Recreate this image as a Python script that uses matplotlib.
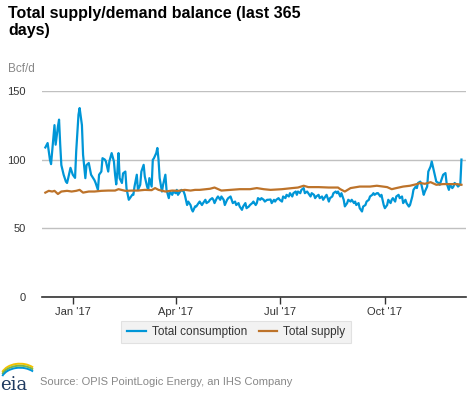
import pandas as pd
import matplotlib
matplotlib.use("Agg")
import matplotlib.pyplot as plt
from matplotlib.patches import Arc

# day index counted from the first day of the 365-day window
start_date = "2016-12-08"

cons_days = [0, 2, 4, 5, 6, 8, 9, 11, 12, 13, 14, 16, 18, 19, 20, 22, 24, 26, 27, 29,
             30, 32, 33, 35, 36, 38, 40, 41, 43, 44, 46, 47, 49, 50, 52, 53, 55, 56, 58, 60,
             61, 62, 63, 64, 65, 67, 68, 70, 71, 73, 74, 76, 77, 78, 80, 81, 83, 84, 86, 87,
             89, 90, 91, 93, 94, 95, 97, 98, 99, 100, 102, 103, 105, 106, 108, 109, 111, 112, 114, 115,
             116, 118, 119, 121, 122, 124, 125, 127, 128, 129, 131, 132, 134, 135, 137, 138, 140, 141, 143, 144,
             146, 147, 148, 150, 151, 153, 154, 156, 157, 159, 160, 162, 163, 164, 166, 167, 169, 170, 172, 173,
             175, 176, 178, 179, 181, 182, 184, 185, 186, 188, 189, 191, 192, 194, 195, 197, 198, 200, 201, 202,
             204, 205, 207, 208, 210, 211, 213, 214, 216, 217, 219, 220, 221, 223, 224, 226, 227, 229, 230, 232,
             233, 235, 236, 237, 239, 240, 242, 243, 245, 246, 248, 249, 251, 252, 254, 255, 256, 258, 259, 261,
             262, 264, 265, 267, 268, 270, 271, 272, 274, 275, 277, 278, 280, 281, 283, 284, 286, 287, 288, 290,
             291, 293, 294, 296, 297, 299, 300, 302, 303, 304, 306, 307, 309, 310, 312, 313, 315, 316, 318, 319,
             321, 322, 324, 325, 326, 328, 329, 331, 332, 334, 335, 337, 338, 340, 341, 342, 344, 345, 347, 348,
             350, 351, 353, 354, 356, 357, 358, 360, 361, 363, 364]
consumption = [108.8, 112, 100, 96.7, 106, 125, 110.8, 124, 129, 111, 96, 89, 84, 83, 86.5, 94, 89, 86.7, 106, 132.6,
               137.4, 125, 103.5, 86.5, 96, 97.5, 89, 87.7, 85, 83, 78, 89, 91.3, 101, 100, 98.6, 91.3, 98.6, 104.7, 98.6,
               89, 82, 91, 104.7, 86.5, 83, 90, 91.3, 79, 70.8, 72, 74.4, 74.4, 80.4, 89, 78, 81.7, 91.3, 96.2, 87.7,
               80.4, 78, 86.5, 80.4, 99.8, 101, 104.7, 108.4, 100, 86.5, 76.8, 81.7, 89, 78, 72, 76.8, 74.4, 76.8, 75.6, 78,
               74.4, 76.8, 78, 76.8, 74.4, 67, 69.5, 67, 64, 62.3, 66, 65.9, 68.4, 69.5, 67, 68.4, 70.8, 68.4, 69.5, 70.8,
               72, 70.8, 68.4, 72, 73.2, 70.8, 73.2, 70.8, 67, 70.8, 72, 73.2, 70.8, 68.4, 69.5, 67, 68.4, 65.9, 63.5, 65.9,
               68.4, 64.7, 65.9, 67, 68.4, 69.5, 67, 68.4, 72, 70.8, 72, 70.8, 69.5, 70.8, 70.8, 71, 68.4, 70.8, 69.5, 70.8,
               72, 70.8, 69.5, 73.2, 72, 74.4, 73.2, 75.6, 73.2, 75.6, 76.8, 74.4, 76.8, 75.6, 78, 79.3, 75.6, 76.8, 75.6, 73.2,
               75.6, 74.4, 72, 73.2, 74.4, 72, 73.2, 70.8, 73.2, 74.4, 69.5, 72, 73.2, 75.6, 76.8, 75.6, 76.8, 73.2, 75.6, 70.8,
               66, 68.4, 70.8, 69.5, 70.8, 68.4, 69.5, 67, 68.4, 64.7, 62.3, 65.9, 67, 69.5, 70.8, 73.2, 74.4, 75.6, 74.4, 75.6,
               75.6, 73.2, 74.4, 67, 64.7, 67, 70.8, 68.4, 70.8, 72, 69.5, 73.2, 74.4, 72, 73.2, 68.4, 70.8, 68.4, 65.9, 67,
               73.2, 78, 80.4, 79.3, 83, 84, 81.7, 74.4, 76.8, 80.4, 91.3, 95, 98.6, 91.3, 87.7, 84, 83, 81.7, 86.5, 89,
               90.2, 83, 78, 81.7, 79.3, 80.4, 83, 81.7, 80.4, 82, 100]

supply_days = [0, 3, 6, 8, 11, 14, 19, 23, 27, 30, 33, 38, 43, 49, 55, 61, 64, 70, 76, 81,
               87, 93, 96, 99, 105, 111, 116, 122, 127, 131, 135, 144, 148, 154, 162, 170, 179, 185, 191, 197,
               207, 216, 221, 226, 230, 239, 248, 256, 258, 262, 267, 275, 284, 290, 299, 303, 307, 313, 319, 325,
               328, 332, 337, 342, 348, 354, 360, 364]
supply = [76, 77.3, 76.8, 77.3, 75, 76.8, 77.3, 76.8, 77.3, 78, 76, 76.8, 76.8, 77.3, 77.5, 77.5, 78.5, 77.3, 77.5, 77.5,
          78, 77.8, 79.3, 78, 76.8, 77.5, 77.3, 78, 77.5, 78, 78, 78.8, 79.7, 77.5, 78, 78.5, 78.5, 79.3, 78.5, 78,
          78.5, 79.3, 79.7, 81, 80, 80, 79.7, 79.7, 78.5, 76.8, 79.3, 80.4, 80.4, 81, 80, 78.5, 79.3, 80.4, 81, 82.2,
          83, 82.4, 83.6, 81.7, 82.2, 82.2, 82.2, 81.7]

tick_dates = ["2017-01-01", "2017-04-01", "2017-07-01", "2017-10-01"]
tick_labels = ["Jan '17", "Apr '17", "Jul '17", "Oct '17"]
y_ticks = [0, 50, 100, 150]

BLUE = "#0096d7"
BROWN = "#bd732a"

plt.rcParams["font.family"] = ["Liberation Sans", "DejaVu Sans"]

t0 = pd.Timestamp(start_date)
cons_x = t0 + pd.to_timedelta(cons_days, unit="D")
supp_x = t0 + pd.to_timedelta(supply_days, unit="D")

fig = plt.figure(figsize=(4.77, 3.93), dpi=100)
ax = fig.add_axes([0.0881, 0.2435, 0.8889, 0.5257])

ax.plot(cons_x, consumption, color=BLUE, lw=1.6, label="Total consumption", zorder=3)
ax.plot(supp_x, supply, color=BROWN, lw=1.6, label="Total supply", zorder=4)

ax.set_ylim(0, 150)
ax.set_xlim(t0 - pd.Timedelta(days=2.9), t0 + pd.Timedelta(days=368))
ax.set_yticks(y_ticks)
ax.set_xticks(pd.to_datetime(tick_dates))
ax.set_xticklabels(tick_labels)
ax.yaxis.grid(True, color="#c0c0c0", lw=1)
ax.set_axisbelow(True)
for s in ("top", "right", "left"):
    ax.spines[s].set_visible(False)
ax.spines["bottom"].set_color("#333333")
ax.spines["bottom"].set_linewidth(1.2)
ax.tick_params(axis="y", length=0, labelsize=8, labelcolor="#333333", pad=12)
ax.tick_params(axis="x", length=5, width=1, color="#333333", labelsize=8, labelcolor="#333333", pad=2)

fig.text(0.017, 0.985, "Total supply/demand balance (last 365\ndays)", ha="left", va="top",
         fontsize=11.5, fontweight="bold", color="#000000", linespacing=1.15)
fig.text(0.017, 0.825, "Bcf/d", ha="left", va="center", fontsize=8.5, color="#888888")

leg = fig.legend(loc="center", bbox_to_anchor=(0.495, 0.155), ncol=2, frameon=True,
                 fontsize=8.5, handlelength=1.6, handletextpad=0.5, columnspacing=1.0,
                 borderpad=0.45, fancybox=False)
leg.get_frame().set_facecolor("#efefef")
leg.get_frame().set_edgecolor("#dcdcdc")
leg.get_frame().set_linewidth(0.8)
for txt in leg.get_texts():
    txt.set_color("#333333")

# eia logo (small pixel-unit axes) and source line
lax = fig.add_axes([0.0, 0.0, 0.075, 0.09])
lax.set_xlim(0, 36)
lax.set_ylim(0, 35)
lax.axis("off")
lax.text(0, -1, "eia", ha="left", va="bottom", fontsize=13, family="DejaVu Serif",
         color="#1f3a60")
for dy, c in ((4, "#f2c200"), (2, "#7ab648"), (0, "#0096d7")):
    lax.add_patch(Arc((20, 12 + dy), 38, 26, theta1=35, theta2=165, color=c, lw=1.4))
fig.text(0.083, 0.028, "Source: OPIS PointLogic Energy, an IHS Company", ha="left", va="center",
         fontsize=8, color="#888888")

fig.savefig("out.png", dpi=100)
